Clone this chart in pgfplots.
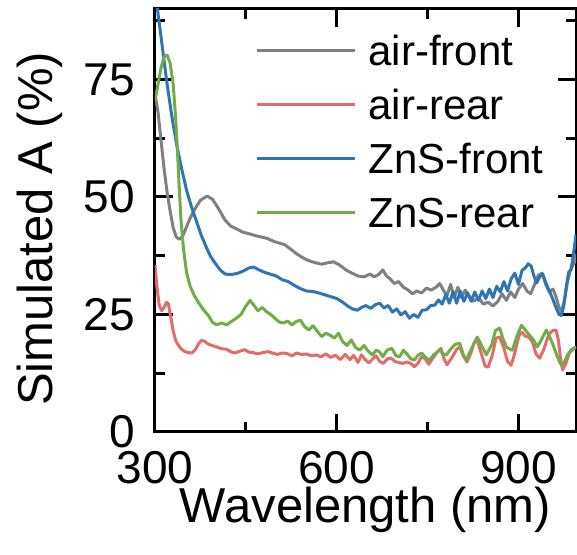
\documentclass[border=0pt]{standalone}
\usepackage{fontspec}
\setmainfont{Liberation Sans}
\usepackage{pgfplots}
\pgfplotsset{compat=1.18}
\definecolor{cgray}{RGB}{128,128,128}
\definecolor{cred}{RGB}{226,108,106}
\definecolor{cblue}{RGB}{46,117,182}
\definecolor{cgreen}{RGB}{112,173,71}
\begin{document}
\begin{tikzpicture}
\begin{axis}[name=ax, scale only axis, width=421pt, height=423pt,
  xmin=300, xmax=995, ymin=0, ymax=90,
  xtick={300,600,900}, minor xtick={450,750},
  ytick={0,25,50,75}, minor ytick={12.5,37.5,62.5,87.5},
  tick align=inside, major tick length=18pt, minor tick length=10pt,
  axis line style={line width=3pt},
  every tick/.style={black, line width=3pt},
  /pgf/number format/assume math mode=true,
  ticklabel style={font=\fontsize{46}{46}\selectfont, inner sep=0pt},
  xticklabel style={anchor=north, yshift=-19pt},
  yticklabel style={anchor=east, xshift=-20pt},
  xlabel={Wavelength (nm)}, ylabel={Simulated A (\%)},
  label style={font=\fontsize{49}{49}\selectfont, inner sep=0pt},
  xlabel style={at={(axis description cs:0.5,0)}, anchor=north, yshift=-55pt},
  ylabel style={at={(axis description cs:-0.2185,0.48)}, anchor=south, rotate=0},
  legend style={draw=none, fill=none, at={(0.238,0.939)}, anchor=north west,
    font=\fontsize{42}{42}\selectfont, row sep=23pt, column sep=12pt, inner sep=0pt,
    nodes={inner sep=0pt, text height=31pt, text depth=0pt}},
  legend cell align=left,
  legend image code/.code={\draw[#1, line width=3pt] (0pt,0pt) -- (98pt,0pt);},
  every axis plot/.append style={line width=3pt, line join=round},
  clip=true]
\addplot[cgray] coordinates {
(300,72) (305,68) (310,62) (315,56) (320,51) (325,47) (330,43.5) (335,41.5) (340,41) (345,41.5)
(350,43) (358,45.5) (366,47.5) (375,49.3) (386,50.2) (395,49.5) (405,47.5) (415,45.2) (425,43.8)
(435,43.2) (445,42.5) (455,42.2) (465,41.8) (475,41.5) (485,41.2) (495,40.6) (505,40.2) (515,39.8)
(525,38.8) (535,37.8) (545,37.0) (555,36.4) (565,36.0) (575,35.7) (585,36.0) (595,36.2) (605,35.5)
(615,34.5) (625,33.8) (635,33.2) (645,33.0) (655,33.6) (662,33.0) (670,33.6) (676,34.5) (682,33.2)
(688,32.6) (695,31.6) (702,32.0) (710,30.8) (718,30.2) (725,29.4) (732,30.0) (740,29.6) (748,30.6)
(756,30.2) (764,30.8) (770,31.6) (776,30.2) (782,29.0) (788,31.4) (794,28.6) (800,30.8) (806,28.6)
(812,30.2) (818,29.0) (826,27.8) (834,28.6) (842,27.2) (850,27.6) (858,26.8) (866,27.8) (873,29.4)
(880,28.0) (887,29.8) (894,28.6) (900,30.4) (907,31.6) (914,30.0) (920,29.4) (926,31.2) (933,33.4)
(939,33.8) (945,31.4) (951,29.8) (957,30.4) (962,28.8) (967,26.5) (971,25.5) (976,28) (981,32)
(986,34.5) (992,36) (997,38)};
\addlegendentry{air-front}
\addplot[cred] coordinates {
(300,35.5) (303,31) (307,27) (311,25.8) (315,26.5) (319,27.6) (322,27.3) (326,24.5) (330,21.5)
(334,19.5) (338,18.6) (343,17.7) (348,17.2) (354,16.9) (361,16.8) (367,17.6) (372,18.8) (377,19.5)
(382,19.3) (388,18.7) (394,18.4) (402,18.1) (410,17.7) (418,17.6) (426,17.0) (432,16.8) (440,17.2)
(448,17.5) (455,17.0) (462,16.9) (470,16.6) (478,16.9) (486,17.1) (494,16.8) (502,16.5) (510,16.8)
(518,16.7) (526,16.2) (534,16.8) (542,16.5) (550,16.6) (558,16.2) (566,16.4) (574,16.0) (582,16.6)
(590,15.9) (598,16.3) (606,15.4) (614,16.5) (622,15.4) (628,16.3) (635,14.8) (641,16.4) (647,15.4)
(653,14.7) (659,15.5) (665,16.2) (671,15.0) (677,14.6) (684,15.6) (690,15.7) (696,15.0) (702,14.8)
(709,14.6) (716,14.9) (722,14.6) (728,13.9) (734,14.6) (740,16.0) (746,15.6) (752,14.4) (758,15.6)
(766,17.0) (772,17.8) (777,15.6) (782,14.3) (790,15.8) (798,17.6) (803,18.1) (809,16.2) (815,14.9)
(821,16.6) (827,19.0) (832,19.5) (838,17.0) (845,14.0) (850,13.8) (857,16.4) (863,20.0) (869,20.2)
(876,17.8) (882,15.0) (888,14.2) (894,16.8) (901,20.6) (906,21.2) (911,20.4) (917,20.2) (923,19.2)
(929,16.6) (935,15.7) (942,17.6) (950,20.8) (957,21.6) (962,21.7) (966,19.5) (970,15.2) (973,13.2)
(978,14.5) (984,16.8) (990,17.6) (995,18.1)};
\addlegendentry{air-rear}
\addplot[cblue] coordinates {
(300,94) (305,89) (312,82) (320,74) (328,67) (336,61) (344,56) (352,51.5) (360,48) (368,45)
(376,42) (384,39.5) (392,37.3) (400,35.8) (408,34.4) (416,33.6) (425,33.5) (435,33.7) (445,34.2)
(455,34.9) (463,35.1) (470,34.6) (480,34.0) (490,33.6) (500,33.2) (510,32.4) (520,32.0) (530,31.2)
(540,30.5) (550,30.0) (560,29.9) (570,29.6) (580,29.2) (590,28.8) (600,28.4) (610,27.6) (618,26.8)
(626,26.2) (634,25.9) (641,26.5) (648,26.9) (656,26.3) (664,27.1) (671,27.4) (678,26.4) (685,26.9)
(692,25.5) (699,26.2) (706,24.9) (713,25.6) (720,24.2) (727,25.0) (734,24.4) (741,25.9) (748,26.0)
(755,26.9) (762,27.0) (768,28.1) (774,27.2) (780,29.2) (786,27.4) (792,29.8) (798,27.4) (804,30.0)
(810,27.8) (816,29.6) (822,27.8) (828,29.8) (834,28.0) (840,30.0) (846,28.4) (852,30.4) (858,28.6)
(864,31.0) (870,29.8) (876,32.0) (882,30.0) (888,32.6) (894,33.8) (900,31.4) (906,34.4) (912,35.0)
(916,35.8) (921,35.3) (926,33.0) (930,31.7) (935,33.0) (940,33.6) (946,31.5) (951,30.0) (956,28.5)
(962,26.5) (967,25.0) (971,24.8) (975,27) (979,31) (983,34) (987,34.6) (991,38) (995,42)};
\addlegendentry{ZnS-front}
\addplot[cgreen] coordinates {
(300,70.5) (305,74) (310,77.5) (315,79.8) (320,80.2) (325,78.5) (330,74) (334,67) (337,60) (340,52)
(343,45) (347,39) (352,34) (358,31) (365,29) (372,27.5) (380,26) (388,24.8) (395,23.3) (402,22.8)
(410,23.2) (418,22.8) (426,23.5) (434,24.2) (442,25.0) (450,26.8) (457,28.0) (463,27.0) (470,25.8)
(477,26.5) (484,25.6) (491,25.0) (498,24.2) (505,23.4) (512,23.2) (519,23.6) (526,22.8) (533,23.5)
(540,23.8) (547,22.4) (554,21.7) (561,22.6) (568,21.4) (575,20.3) (582,21.0) (589,20.6) (596,20.0)
(603,21.0) (610,19.2) (617,18.4) (624,19.6) (631,18.0) (638,17.4) (645,18.4) (652,17.2) (659,16.4)
(665,17.4) (671,17.0) (676,16.0) (683,17.4) (691,17.8) (698,16.2) (704,16.0) (710,17.4) (716,16.6)
(722,15.6) (728,15.3) (734,16.3) (740,16.8) (747,15.8) (753,15.3) (760,16.4) (770,17.4) (776,16.6)
(781,16.4) (788,17.6) (795,18.6) (803,18.9) (809,16.4) (814,15.3) (822,17.6) (832,20.2) (839,18.4)
(847,16.4) (856,18.6) (862,21.6) (869,22.1) (874,20.0) (880,18.1) (886,17.6) (890,17.4) (897,20.2)
(905,22.7) (912,21.6) (918,20.6) (925,19.6) (931,18.1) (937,19.4) (946,21.7) (951,20.4) (956,18.9)
(962,16.8) (968,14.8) (972,14.2) (976,15.0) (982,16.6) (988,17.6) (995,18.1)};
\addlegendentry{ZnS-rear}
\end{axis}
\pgfresetboundingbox
\useasboundingbox ([shift={(-155pt,-123pt)}]ax.south west) rectangle ([shift={(1pt,9pt)}]ax.north east);
\end{tikzpicture}
\end{document}
